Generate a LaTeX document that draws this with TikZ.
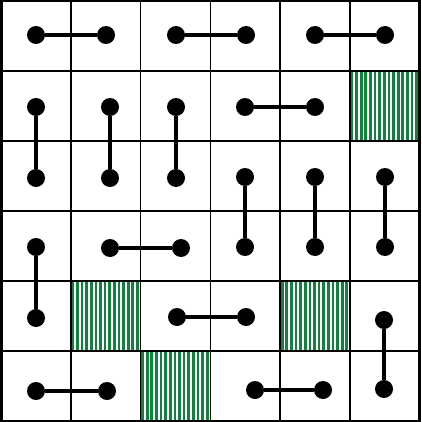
\documentclass[tikz,border=0pt]{standalone}
\definecolor{hatchgreen}{RGB}{18,128,62}
\begin{document}
\begin{tikzpicture}[
    x=1pt, y=-1pt,
    grid/.style={draw=black, line width=1.5pt},
    border/.style={draw=black, line width=3pt},
    stripe/.style={fill=hatchgreen},
    dot/.style={circle, fill=black, inner sep=0pt, minimum size=18pt},
    bond/.style={line width=4.5pt}
]
    \useasboundingbox (0,0) rectangle (421,422);
    \fill[white] (0,0) rectangle (421,422);

    % Blocked cells
    \foreach \c/\r in {5/1, 1/4, 4/4, 2/5} {
        \foreach \k in {0,...,14}
            \fill[stripe] (1+69.8*\c+0.6+\k*4.62, 1+70*\r) rectangle ++(2.7,70);
    }

    % Grid
    \foreach \i in {1,...,5} {
        \draw[grid] (1+69.8*\i,1) -- (1+69.8*\i,421);
        \draw[grid] (1,1+70*\i) -- (419.8,1+70*\i);
    }
    \draw[border] (1,1) rectangle (419.8,421);

    % Dots
    \node[dot] (a1) at (36,35) {};
    \node[dot] (b1) at (106,35) {};
    \node[dot] (c1) at (176,35) {};
    \node[dot] (d1) at (246,35) {};
    \node[dot] (e1) at (315,35) {};
    \node[dot] (f1) at (385,35) {};

    \node[dot] (a2) at (36,107) {};
    \node[dot] (b2) at (110,107) {};
    \node[dot] (c2) at (176,107) {};
    \node[dot] (d2) at (245,107) {};
    \node[dot] (e2) at (315,107) {};

    \node[dot] (a3) at (36,178) {};
    \node[dot] (b3) at (110,178) {};
    \node[dot] (c3) at (176,178) {};
    \node[dot] (d3) at (245,177) {};
    \node[dot] (e3) at (315,177) {};
    \node[dot] (f3) at (385,177) {};

    \node[dot] (a4) at (36,247) {};
    \node[dot] (b4) at (110,248) {};
    \node[dot] (c4) at (181,248) {};
    \node[dot] (d4) at (245,247) {};
    \node[dot] (e4) at (315,247) {};
    \node[dot] (f4) at (385,247) {};

    \node[dot] (a5) at (36,318) {};
    \node[dot] (c5) at (177,317) {};
    \node[dot] (d5) at (246,317) {};
    \node[dot] (f5) at (384,320) {};

    \node[dot] (a6) at (36,391) {};
    \node[dot] (b6) at (107,391) {};
    \node[dot] (d6) at (255,390) {};
    \node[dot] (e6) at (323,390) {};
    \node[dot] (f6) at (384,389) {};

    % Dominoes
    \draw[bond] (a1) -- (b1);
    \draw[bond] (c1) -- (d1);
    \draw[bond] (e1) -- (f1);
    \draw[bond] (a2) -- (a3);
    \draw[bond] (b2) -- (b3);
    \draw[bond] (c2) -- (c3);
    \draw[bond] (d2) -- (e2);
    \draw[bond] (d3) -- (d4);
    \draw[bond] (e3) -- (e4);
    \draw[bond] (f3) -- (f4);
    \draw[bond] (a4) -- (a5);
    \draw[bond] (b4) -- (c4);
    \draw[bond] (c5) -- (d5);
    \draw[bond] (f5) -- (f6);
    \draw[bond] (a6) -- (b6);
    \draw[bond] (d6) -- (e6);
\end{tikzpicture}
\end{document}
